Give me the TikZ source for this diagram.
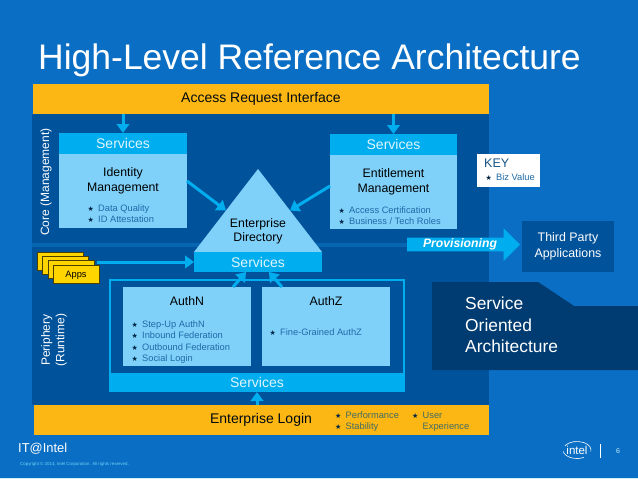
\documentclass[tikz,border=0pt]{standalone}
\usepackage{fontspec}
\setmainfont{Liberation Sans}
\newfontfamily\starfont{DejaVu Sans}
\usetikzlibrary{arrows.meta,calc,shapes.arrows}
\definecolor{slideblue}{HTML}{0A6FC4}
\definecolor{panelblue}{HTML}{00529A}
\definecolor{stripblue}{HTML}{0865B2}
\definecolor{navyblue}{HTML}{003C71}
\definecolor{goldbar}{HTML}{FDB714}
\definecolor{skyblue}{HTML}{7FD1FA}
\definecolor{cyanblue}{HTML}{00AEEF}
\definecolor{appyellow}{HTML}{FFD500}
\definecolor{itemblue}{HTML}{1F6AA8}
\definecolor{itemolive}{HTML}{3F6B62}
\tikzset{
  block/.style={inner sep=0pt,outer sep=0pt,fill=#1},
  txt/.style={inner sep=0pt,align=center,font=\fontsize{12.3}{14.6}\selectfont,text=black},
  bartxt/.style={inner sep=0pt,font=\fontsize{14}{16}\selectfont,text=black!85!navyblue},
  servtxt/.style={inner sep=0pt,font=\fontsize{14}{16}\selectfont,text=white!88!cyanblue},
  items/.style={inner sep=0pt,anchor=west,align=left,text=itemblue,font=\fontsize{9.3}{11.4}\selectfont},
  flow/.style={draw=cyanblue,line width=3pt,-{Triangle[length=9pt,width=12.5pt]}},
  sidetxt/.style={inner sep=0pt,align=center,rotate=90,text=white,font=\fontsize{12}{14.5}\selectfont},
}
\newcommand\rbox[7]{\node[#6,minimum width=(#4-#2)*1pt,minimum height=(#5-#3)*1pt] (#1) at ({(#2+#4)/2},{(#3+#5)/2}) {#7};}
\newcommand\biz[1]{\makebox[10.5pt][l]{\starfont\fontsize{7}{8}\selectfont\color{black!40!navyblue}★}#1}
\begin{document}
\begin{tikzpicture}[x=1pt,y=-1pt]
\useasboundingbox (0,0) rectangle (638,479);
\fill[slideblue] (0,0) rectangle (638,479);
\fill[white!80!cyanblue] (0,478) rectangle (638,479);
\node[inner sep=0pt,anchor=west,text=white,font=\fontsize{35.5}{40}\selectfont] (title) at (38,60.5) {High-Level Reference Architecture};
\rbox{corepanel}{32}{114}{489}{243}{block=panelblue}{}
\rbox{peripanel}{32}{247}{489}{405}{block=panelblue}{}
\rbox{provstrip}{32}{243}{410}{247}{block=stripblue}{}
\rbox{accessbar}{33}{84}{489}{114}{block=goldbar}{}
\rbox{loginbar}{34}{405}{489}{435}{block=goldbar}{}
\node[bartxt] (accesstxt) at (261,99) {Access Request Interface};
\node[bartxt] (logintxt) at (261,420) {Enterprise Login};
\node[sidetxt] (coretxt) at (46,182) {Core (Management)};
\node[sidetxt] (peritxt) at (54,340) {Periphery\\(Runtime)};
\rbox{idbody}{59}{154}{187}{228}{block=skyblue}{}
\rbox{idserv}{59}{133}{187}{154}{block=cyanblue,servtxt}{Services}
\node[txt] (idtxt) at (123,181) {Identity\\Management};
\node[items] (iditems) at (87.5,213.5) {\biz{Data Quality}\\\biz{ID Attestation}};
\rbox{entbody}{330}{155}{457}{229}{block=skyblue}{}
\rbox{entserv}{330}{134}{457}{155}{block=cyanblue,servtxt}{Services}
\node[txt] (enttxt) at (393.5,182) {Entitlement\\Management};
\node[items] (entitems) at (338.5,215.5) {\biz{Access Certification}\\\biz{Business / Tech Roles}};
\coordinate (dirapex) at (258,169);
\coordinate (dirleft) at (194,252);
\coordinate (dirright) at (322,252);
\fill[skyblue] (dirapex) -- (dirleft) -- (dirright) -- cycle;
\node[txt] (dirtxt) at (258,231.5) {Enterprise\\Directory};
\rbox{dirserv}{194}{252}{322}{272}{block=cyanblue,servtxt}{Services}
\rbox{authframe}{110}{280}{404}{391}{block=panelblue,draw=cyanblue,line width=2.5pt}{}
\rbox{authserv}{109}{373}{405}{392}{block=cyanblue,servtxt}{Services}
\rbox{authn}{123}{287}{251}{366}{block=skyblue}{}
\rbox{authz}{262}{287}{390}{366}{block=skyblue}{}
\node[txt] (authntxt) at (187,301) {AuthN};
\node[txt] (authztxt) at (326,301) {AuthZ};
\node[items] (authnitems) at (131.5,342) {\biz{Step-Up AuthN}\\\biz{Inbound Federation}\\\biz{Outbound Federation}\\\biz{Social Login}};
\node[items] (authzitems) at (269.5,332) {\biz{Fine-Grained AuthZ}};
\node[items,text=itemolive] (loginitemsa) at (335,421.5) {\biz{Performance}\\\biz{Stability}};
\node[items,text=itemolive] (loginitemsb) at (412,421.5) {\biz{User}\\\makebox[10.5pt]{}Experience};
\foreach \i/\x/\y in {1/37/252,2/42/256,3/48/260,4/53/265}
  \rbox{app\i}{\x}{\y}{\x+46}{\y+18}{block=appyellow,draw=black!70!appyellow,line width=.5pt}{};
\node[inner sep=0pt,text=black,font=\fontsize{9.3}{11}\selectfont] (appstxt) at (76,275) {Apps};
\rbox{keybox}{477}{154}{540}{187}{block=white}{}
\node[inner sep=0pt,anchor=west,text=itemblue!80!black,font=\fontsize{12.5}{14}\selectfont] (keytxt) at (484,163.5) {KEY};
\node[items] (keyitem) at (485.5,177) {\biz{Biz Value}};
\rbox{thirdparty}{522}{221}{614}{272}{block=panelblue,text=white,align=center,font=\fontsize{12.4}{15.5}\selectfont}{Third Party\\Applications}
\node[single arrow,fill=cyanblue,inner sep=0pt,outer sep=0pt,minimum width=33pt,minimum height=113pt,single arrow head extend=8pt,text=white,font=\fontsize{12.2}{14}\selectfont\bfseries\itshape] (provarrow) at (460,244.5) {Provisioning\hspace{9pt}};
\fill[navyblue] (432,282) -- (538,282) -- (574,306) -- (638,306) -- (638,370) -- (432,370) -- cycle;
\node[inner sep=0pt,anchor=west,align=left,text=white,font=\fontsize{17.4}{21.5}\selectfont] (soatxt) at (465,325) {Service\\Oriented\\Architecture};
\draw[flow] (accessbar.south -| idserv.north) -- (idserv.north);
\draw[flow] (accessbar.south -| entserv.north) -- (entserv.north);
\coordinate (idout) at (187,181);
\coordinate (entout) at (330,186);
\draw[flow] (idout) -- ($(dirapex)!0.5!(dirleft)$);
\draw[flow] (entout) -- ($(dirapex)!0.5!(dirright)$);
\coordinate (appout) at (97,262);
\draw[flow] (appout) -- (appout -| dirserv.west);
\coordinate (authnout) at (233,287);
\coordinate (authzout) at (282,287);
\coordinate (authnin) at (246,272);
\coordinate (authzin) at (269,272);
\draw[flow] (authnout) -- (authnin);
\draw[flow] (authzout) -- (authzin);
\draw[flow] (loginbar.north -| authserv.north) -- (authserv.south);
\node[inner sep=0pt,anchor=west,text=white,font=\fontsize{12.9}{14}\selectfont] (itintel) at (18,449) {IT@Intel};
\node[inner sep=0pt,anchor=west,text=white!45!cyanblue,font=\fontsize{4.4}{5}\selectfont] (copyright) at (20,464.5) {Copyright © 2014, Intel Corporation. All rights reserved.};
\node[inner sep=0pt,text=white,font=\fontsize{11.5}{12}\selectfont] (inteltxt) at (577,450) {intel};
\draw[white,line width=.6pt] (inteltxt.center) ++(-150:14 and 8.5) arc[start angle=-150,end angle=10,x radius=14,y radius=8.5];
\draw[white,line width=.6pt] (inteltxt.center) ++(170:14 and 8.5) arc[start angle=170,end angle=60,x radius=14,y radius=8.5];
\coordinate (bartop) at (600,444);
\coordinate (barbot) at (600,458);
\draw[white,line width=.7pt] (bartop) -- (barbot);
\node[inner sep=0pt,text=white!80!cyanblue,font=\fontsize{7}{8}\selectfont] (pagenum) at (618,451) {6};
\end{tikzpicture}
\end{document}
